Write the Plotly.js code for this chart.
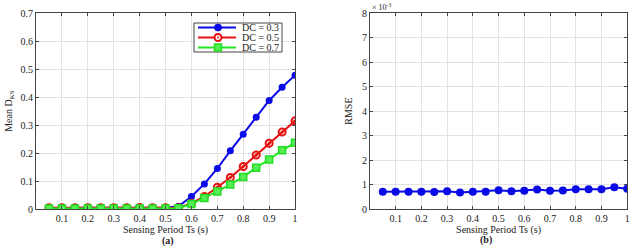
<!DOCTYPE html>
<html><head><meta charset="utf-8">
<script src="https://cdn.plot.ly/plotly-3.0.1.min.js"></script>
<style>html,body{margin:0;padding:0;background:#fff}#c{width:640px;height:246px}</style>
</head><body><div id="c"></div>
<script>
const ts = [0.05,0.1,0.15,0.2,0.25,0.3,0.35,0.4,0.45,0.5,0.55,0.6,0.65,0.7,0.75,0.8,0.85,0.9,0.95,1.0];
const dc03 = [0.004,0.005,0.005,0.005,0.005,0.005,0.005,0.006,0.005,0.005,0.01,0.045,0.09,0.145,0.208,0.267,0.328,0.388,0.435,0.478];
const dc05 = [0.005,0.005,0.005,0.005,0.005,0.005,0.005,0.006,0.005,0.005,0.005,0.02,0.045,0.078,0.113,0.152,0.193,0.235,0.275,0.315];
const dc07 = [0.002,0.002,0.002,0.002,0.002,0.002,0.002,0.002,0.002,0.002,0.003,0.018,0.04,0.063,0.088,0.115,0.148,0.177,0.21,0.237];
const rmse = [0.00071,0.00071,0.00071,0.00071,0.0007,0.00073,0.00068,0.00071,0.00071,0.00077,0.00073,0.00075,0.0008,0.00075,0.00076,0.00081,0.00081,0.00081,0.00089,0.00083];
const seriesNames = ['DC = 0.3','DC = 0.5','DC = 0.7'];
const xTicks = [0.1,0.2,0.3,0.4,0.5,0.6,0.7,0.8,0.9,1];
const xTickText = ['0.1','0.2','0.3','0.4','0.5','0.6','0.7','0.8','0.9','1'];
const yTicksA = [0,0.1,0.2,0.3,0.4,0.5,0.6,0.7];
const yTicksB = [0,0.001,0.002,0.003,0.004,0.005,0.006,0.007,0.008];
const yTickTextB = ['0','1','2','3','4','5','6','7','8'];

const F = 'Liberation Serif, Times New Roman, serif';
const BLUE='#0a0ae6', RED='#e61010', GREEN='#22e622';
const traces = [
 {x:ts,y:dc03,name:seriesNames[0],mode:'lines+markers',line:{color:BLUE,width:2},marker:{symbol:'circle',size:7,color:BLUE},xaxis:'x',yaxis:'y'},
 {x:ts,y:dc05,name:seriesNames[1],mode:'lines+markers',line:{color:RED,width:2},marker:{symbol:'circle-open-dot',size:7,color:RED,line:{width:2,color:RED}},xaxis:'x',yaxis:'y'},
 {x:ts,y:dc07,name:seriesNames[2],mode:'lines+markers',line:{color:GREEN,width:2},marker:{symbol:'square',size:7,color:'#55ee55',line:{width:1.5,color:'#22dd22'}},xaxis:'x',yaxis:'y'},
 {x:ts,y:rmse,name:'RMSE',mode:'lines+markers',line:{color:BLUE,width:2},marker:{symbol:'circle',size:8,color:BLUE},xaxis:'x2',yaxis:'y2'}
];
const ax = {showline:true,mirror:'ticks',linecolor:'#444',linewidth:1,ticks:'inside',ticklen:3,tickcolor:'#444',
  showgrid:true,gridcolor:'#e2e2e2',gridwidth:1,zeroline:false,tickfont:{family:F,size:10,color:'#222'}};

// custom compact legend (paper coords)
const W=640,H=246;
const px=v=>v/W, py=v=>1-v/H;
const rowsY=[27.5,37.5,47.5];
const shapes=[{type:'rect',xref:'paper',yref:'paper',x0:px(194),x1:px(282),y0:py(52),y1:py(23),fillcolor:'#fff',line:{color:'#444',width:1},layer:'above'}];
const annotations=[];
const cols=[BLUE,RED,GREEN];
rowsY.forEach((yy,i)=>{
  shapes.push({type:'line',xref:'paper',yref:'paper',x0:px(198),x1:px(236),y0:py(yy),y1:py(yy),line:{color:cols[i],width:2},layer:'above'});
  const r=3.5;
  if(i===0){
    shapes.push({type:'circle',xref:'paper',yref:'paper',x0:px(218-r),x1:px(218+r),y0:py(yy+r),y1:py(yy-r),fillcolor:BLUE,line:{color:BLUE,width:1},layer:'above'});
  } else if(i===1){
    shapes.push({type:'circle',xref:'paper',yref:'paper',x0:px(218-r),x1:px(218+r),y0:py(yy+r),y1:py(yy-r),fillcolor:'#fff',line:{color:RED,width:2},layer:'above'});
    shapes.push({type:'circle',xref:'paper',yref:'paper',x0:px(217),x1:px(219),y0:py(yy+1),y1:py(yy-1),fillcolor:RED,line:{color:RED,width:0},layer:'above'});
  } else {
    shapes.push({type:'rect',xref:'paper',yref:'paper',x0:px(218-r),x1:px(218+r),y0:py(yy+r),y1:py(yy-r),fillcolor:'#55ee55',line:{color:'#22dd22',width:1.5},layer:'above'});
  }
  annotations.push({text:seriesNames[i],xref:'paper',yref:'paper',x:px(240),y:py(yy),xanchor:'left',yanchor:'middle',showarrow:false,font:{family:F,size:10,color:'#222'}});
});
annotations.push(
  {text:'<b>(a)</b>',x:px(161),y:py(241),xref:'paper',yref:'paper',showarrow:false,font:{family:F,size:10},yanchor:'middle',borderpad:0},
  {text:'<b>(b)</b>',x:px(493),y:py(239.5),xref:'paper',yref:'paper',showarrow:false,font:{family:F,size:10},yanchor:'middle',borderpad:0},
  {text:'\u00d7 10<sup>-3</sup>',x:0.578,y:1,xref:'paper',yref:'paper',xanchor:'left',yanchor:'top',showarrow:false,font:{family:F,size:8}}
);

const layout = {
 width:640,height:246,margin:{l:0,r:0,t:0,b:0},paper_bgcolor:'#fff',plot_bgcolor:'#fff',
 font:{family:F,color:'#222'},showlegend:false,
 xaxis:Object.assign({},ax,{domain:[0.0563,0.461],range:[0,1],tickvals:xTicks,ticktext:xTickText,
   title:{text:'Sensing Period Ts (s)',font:{family:F,size:10},standoff:0},anchor:'y'}),
 yaxis:Object.assign({},ax,{domain:[0.15,0.947],range:[0,0.7],tickvals:yTicksA,
   title:{text:'Mean D<sub>KS</sub>',font:{family:F,size:10},standoff:6},anchor:'x'}),
 xaxis2:Object.assign({},ax,{domain:[0.578,0.98],range:[0,1],tickvals:xTicks,ticktext:xTickText,
   title:{text:'Sensing Period Ts (s)',font:{family:F,size:10},standoff:0},anchor:'y2'}),
 yaxis2:Object.assign({},ax,{domain:[0.15,0.947],range:[0,0.008],tickvals:yTicksB,ticktext:yTickTextB,
   title:{text:'RMSE',font:{family:F,size:10},standoff:7},anchor:'x2'}),
 shapes:shapes, annotations:annotations
};
Plotly.newPlot('c',traces,layout,{staticPlot:true});
</script></body></html>
